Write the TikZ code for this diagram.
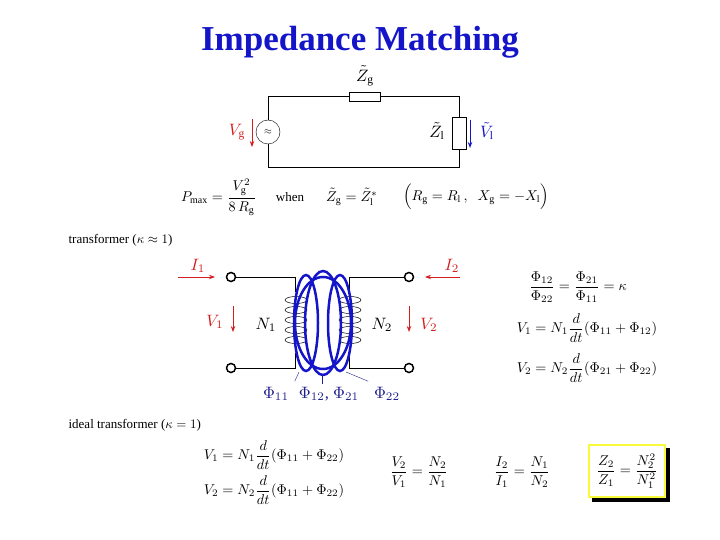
\documentclass[tikz,border=0pt]{standalone}
\usepackage{amsmath}
\usepackage{fontspec}
\setmainfont{Liberation Serif}
\usetikzlibrary{arrows.meta}
\definecolor{tblue}{RGB}{20,20,200}
\definecolor{tred}{RGB}{210,30,30}
\definecolor{navy}{RGB}{30,30,140}
\definecolor{boxy}{RGB}{250,250,60}
\begin{document}
\begin{tikzpicture}[x=1pt,y=-1pt,
  txt/.style={scale=1.3},
  eq/.style={scale=1.42},
  big/.style={scale=1.65},
  wire/.style={line width=1pt},
  term/.style={circle,draw,line width=1.5pt,fill=white,inner sep=0pt,minimum size=9pt},
  rarr/.style={-{Stealth[length=6pt]},tred,line width=1pt},
  flux/.style={tblue,line width=2.5pt},
  coil/.style={line width=0.5pt}]
\useasboundingbox (0,0) rectangle (720,540);
\node[font=\fontsize{35}{38}\selectfont\bfseries,tblue] (title) at (360,42) {Impedance Matching};
% circuit
\coordinate (tl) at (268,97); \coordinate (tr) at (459,97);
\coordinate (bl) at (268,168); \coordinate (br) at (459,168);
\node[circle,draw,minimum size=24pt,inner sep=0pt] (src) at (268,132) {$\approx$};
\node[draw,minimum width=31pt,minimum height=9pt,inner sep=0pt,fill=white] (zg) at (365,97) {};
\node[draw,minimum width=14pt,minimum height=32pt,inner sep=0pt,fill=white] (zl) at (459,133) {};
\draw[wire] (src.north) -- (tl) -- (zg.west) (zg.east) -- (tr) -- (zl.north);
\draw[wire] (src.south) -- (bl) -- (br) -- (zl.south);
\node[big] (zgl) at (365,76) {$\tilde Z_{\rm g}$};
\node[big] (zll) at (437,131) {$\tilde Z_{\rm l}$};
\coordinate (va) at (252,119); \coordinate (vb) at (252,147);
\draw[rarr] (va) -- (vb);
\node[tred,big] (vgl) at (237,132) {$V_{\rm g}$};
\coordinate (wa) at (470,120); \coordinate (wb) at (470,148);
\draw[-{Stealth[length=6pt]},tblue,line width=1pt] (wa) -- (wb);
\node[tblue,big] (vll) at (487,131) {$\tilde V_{\rm l}$};
\node[eq,anchor=west] (pmax) at (176,197) {$P_{\max} = \dfrac{V_{\rm g}^2}{8\,R_{\rm g}}$};
\node[txt] (when) at (290,197) {when};
\node[eq] (zeq) at (352,197) {$\tilde Z_{\rm g} = \tilde Z_{\rm l}^{*}$};
\node[eq,anchor=west] (cond) at (398,197) {$\Bigl(R_{\rm g} = R_{\rm l}\,,\;\; X_{\rm g} = -X_{\rm l}\Bigr)$};
% transformer
\node[txt,anchor=west] (tr1) at (64,240) {transformer ($\kappa \approx 1$)};
\node[term] (t1) at (231,277) {}; \node[term] (t2) at (231,368) {};
\node[term] (t3) at (409,277) {}; \node[term] (t4) at (409,368) {};
\coordinate (a1) at (295,277); \coordinate (a2) at (295,292);
\coordinate (b1) at (295,368); \coordinate (b2) at (295,353);
\coordinate (c1) at (349,277); \coordinate (c2) at (349,292);
\coordinate (d1) at (349,368); \coordinate (d2) at (349,353);
\draw[wire] (t1) -- (a1) -- (a2); \draw[wire] (t2) -- (b1) -- (b2);
\draw[wire] (t3) -- (c1) -- (c2); \draw[wire] (t4) -- (d1) -- (d2);
\foreach \y in {300,310,320,330,340}{
  \draw[coil] (296,\y) ellipse (11pt and 3.5pt);
  \draw[coil] (350,\y) ellipse (11pt and 3.5pt);}
\draw[flux] (306,323) ellipse (12pt and 48pt);
\draw[flux] (340,323) ellipse (12pt and 48pt);
\draw[flux] (323,323) ellipse (18pt and 52pt);
\draw[flux] (323,323) ellipse (28pt and 46pt);
\node[big] (n1) at (266,325) {$N_1$};
\node[big] (n2) at (382,325) {$N_2$};
\draw[rarr] (178,277) -- (215,277);
\node[tred,big] (i1l) at (198,266) {$I_1$};
\draw[rarr] (460,277) -- (425,277);
\node[tred,big] (i2l) at (452,266) {$I_2$};
\draw[rarr] (233,306) -- (233,332);
\node[tred,big] (v1l) at (215,322) {$V_1$};
\draw[rarr] (409,306) -- (409,332);
\node[tred,big] (v2l) at (429,325) {$V_2$};
\node[navy,big] (f11) at (276,394) {$\Phi_{11}$};
\node[navy,big] (f12) at (329,394) {$\Phi_{12}$, $\Phi_{21}$};
\node[navy,big] (f22) at (387,394) {$\Phi_{22}$};
\draw[navy,thin] (f11.north east) -- (299,372);
\draw[navy,thin] (322,384) -- (322,375);
\draw[navy,thin] (f22.north west) -- (346,372);
\node[eq] (k) at (578,287) {$\dfrac{\Phi_{12}}{\Phi_{22}} = \dfrac{\Phi_{21}}{\Phi_{11}} = \kappa$};
\node[eq] (e1) at (587,328) {$V_1 = N_1\dfrac{d}{dt}(\Phi_{11}+\Phi_{12})$};
\node[eq] (e2) at (587,368) {$V_2 = N_2\dfrac{d}{dt}(\Phi_{21}+\Phi_{22})$};
% ideal
\node[txt,anchor=west] (id) at (64,425) {ideal transformer ($\kappa = 1$)};
\node[eq] (e3) at (274,455) {$V_1 = N_1\dfrac{d}{dt}(\Phi_{11}+\Phi_{22})$};
\node[eq] (e4) at (274,490) {$V_2 = N_2\dfrac{d}{dt}(\Phi_{11}+\Phi_{22})$};
\node[eq] (r1) at (419,472) {$\dfrac{V_2}{V_1} = \dfrac{N_2}{N_1}$};
\node[eq] (r2) at (522,472) {$\dfrac{I_2}{I_1} = \dfrac{N_1}{N_2}$};
\fill[black] (592,448) rectangle (670,502);
\node[draw=boxy,line width=2.5pt,fill=white,minimum width=76pt,minimum height=52pt] (zr) at (627,471) {\scalebox{1.42}{$\dfrac{Z_2}{Z_1} = \dfrac{N_2^2}{N_1^2}$}};
\end{tikzpicture}
\end{document}
